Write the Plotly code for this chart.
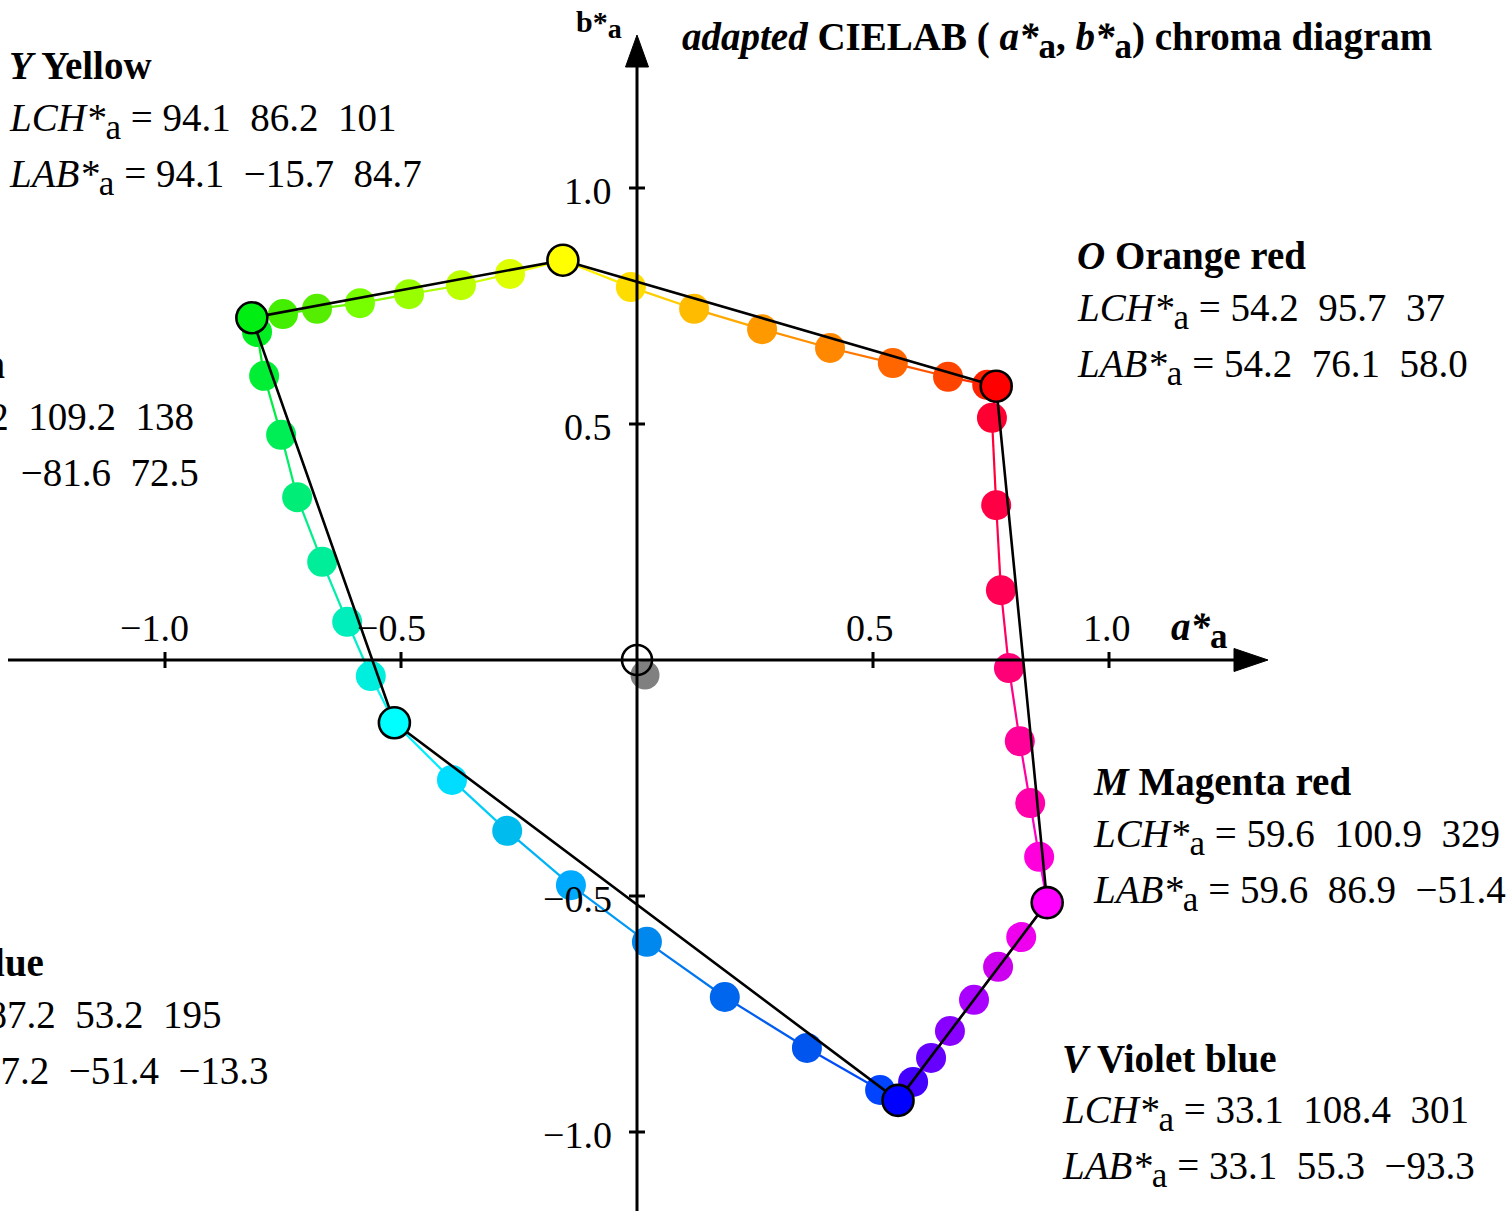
import plotly.graph_objects as go

# ---- primary colours (label values, CIELAB adapted) ----
anchor_code = ["Y", "O", "M", "V", "C", "G"]
anchor_name = ["Yellow", "Orange red", "Magenta red", "Violet blue", "Cyan blue", "Leaf green"]
anchor_L = [94.1, 54.2, 59.6, 33.1, 87.2, 81.2]
anchor_C = [86.2, 95.7, 100.9, 108.4, 53.2, 109.2]
anchor_h = [101, 37, 329, 301, 195, 138]
anchor_a = [-15.7, 76.1, 86.9, 55.3, -51.4, -81.6]
anchor_b = [84.7, 58.0, -51.4, -93.3, -13.3, 72.5]
anchor_color = ["#ffff00", "#ff0000", "#ff00ff", "#0000ff", "#00ffff", "#00ee11"]

# ---- intermediate hue steps between neighbouring primaries (a*/100, b*/100) ----
yo_a = [-0.013, 0.121, 0.265, 0.409, 0.542, 0.659, 0.742]
yo_b = [0.790, 0.744, 0.701, 0.661, 0.629, 0.600, 0.583]
yo_col = ["#ffdd00", "#ffbb00", "#ff9900", "#ff8800", "#ff6600", "#ff4400", "#ff2200"]

om_a = [0.752, 0.761, 0.771, 0.788, 0.811, 0.833, 0.852]
om_b = [0.513, 0.328, 0.148, -0.017, -0.172, -0.303, -0.417]
om_col = ["#ff0033", "#ff0044", "#ff0055", "#ff0077", "#ff0099", "#ff00aa", "#ff00dd"]

mv_a = [0.814, 0.765, 0.714, 0.663, 0.623, 0.585]
mv_b = [-0.587, -0.650, -0.720, -0.786, -0.843, -0.894]
mv_col = ["#ee00ee", "#cc00ee", "#aa00ff", "#8800ff", "#6600ff", "#4400ff"]

vc_a = [0.515, 0.360, 0.186, 0.021, -0.140, -0.275, -0.392]
vc_b = [-0.911, -0.822, -0.714, -0.597, -0.477, -0.362, -0.254]
vc_col = ["#0044ff", "#0055ee", "#0066ee", "#0088ee", "#00aaff", "#00bbee", "#00ddff"]

cg_a = [-0.564, -0.614, -0.667, -0.720, -0.754, -0.790, -0.805]
cg_b = [-0.034, 0.081, 0.208, 0.345, 0.477, 0.602, 0.695]
cg_col = ["#00eedd", "#00eebb", "#00ee99", "#00ee77", "#00ee55", "#00ee33", "#00ee22"]

gy_a = [-0.750, -0.678, -0.587, -0.483, -0.373, -0.269]
gy_b = [0.733, 0.744, 0.756, 0.775, 0.794, 0.818]
gy_col = ["#44ee00", "#55ee00", "#77ff00", "#99ff00", "#bbff00", "#ddff00"]

# achromatic grey sample near the origin
grey_a = [0.017]
grey_b = [-0.032]

# axis ticks
tick_vals = [-1.0, -0.5, 0.5, 1.0]
tick_text = ["\u22121.0", "\u22120.5", "0.5", "1.0"]

FONT = "Liberation Serif, Times New Roman, serif"
W, H = 1512, 1211
X0, Y0, S = 637.0, 660.0, 472.0          # origin pixel and pixels per unit
x_range = [-X0 / S, (W - X0) / S]
y_range = [-(H - Y0) / S, Y0 / S]

# build the closed hue ring Y -> O -> M -> V -> C -> G -> Y
pa = [v / 100 for v in anchor_a]
pb = [v / 100 for v in anchor_b]
segments = [(yo_a, yo_b, yo_col), (om_a, om_b, om_col), (mv_a, mv_b, mv_col),
            (vc_a, vc_b, vc_col), (cg_a, cg_b, cg_col), (gy_a, gy_b, gy_col)]
ring_a, ring_b, ring_c = [], [], []
for i, (sa, sb, sc) in enumerate(segments):
    ring_a += [pa[i]] + sa
    ring_b += [pb[i]] + sb
    ring_c += [anchor_color[i]] + sc
ring_a.append(pa[0]); ring_b.append(pb[0]); ring_c.append(anchor_color[0])


def mix(c1, c2):
    r1, g1, b1 = int(c1[1:3], 16), int(c1[3:5], 16), int(c1[5:7], 16)
    r2, g2, b2 = int(c2[1:3], 16), int(c2[3:5], 16), int(c2[5:7], 16)
    return "#%02x%02x%02x" % ((r1 + r2) // 2, (g1 + g2) // 2, (b1 + b2) // 2)


fig = go.Figure()

# thin coloured connecting lines
for k in range(len(ring_a) - 1):
    fig.add_trace(go.Scatter(x=ring_a[k:k + 2], y=ring_b[k:k + 2], mode="lines",
                             line=dict(color=mix(ring_c[k], ring_c[k + 1]), width=2.2),
                             hoverinfo="skip", showlegend=False))

# intermediate hue dots
dots_a, dots_b, dots_c = [], [], []
for sa, sb, sc in segments:
    dots_a += sa; dots_b += sb; dots_c += sc
fig.add_trace(go.Scatter(x=dots_a, y=dots_b, mode="markers",
                         marker=dict(size=30, color=dots_c, line=dict(width=0)),
                         showlegend=False))

# grey sample
fig.add_trace(go.Scatter(x=grey_a, y=grey_b, mode="markers",
                         marker=dict(size=29, color="#808080", line=dict(width=0)),
                         showlegend=False))

# hexagon through the primaries
fig.add_trace(go.Scatter(x=pa + [pa[0]], y=pb + [pb[0]], mode="lines",
                         line=dict(color="black", width=2.6), showlegend=False))

# primaries
fig.add_trace(go.Scatter(x=pa, y=pb, mode="markers",
                         marker=dict(size=31, color=anchor_color,
                                     line=dict(color="black", width=2.6)),
                         showlegend=False))

# open circle at the origin
fig.add_trace(go.Scatter(x=[0], y=[0], mode="markers",
                         marker=dict(size=30, symbol="circle-open", color="black",
                                     line=dict(width=2.6)),
                         showlegend=False))

# ---- axes drawn as shapes ----
shapes = []
ax_w = 3
shapes.append(dict(type="line", xref="x", yref="y", x0=(8 - X0) / S, x1=(1245 - X0) / S,
                   y0=0, y1=0, line=dict(color="black", width=ax_w), layer="above"))
shapes.append(dict(type="line", xref="x", yref="y", x0=0, x1=0, y0=y_range[0] - 0.02,
                   y1=(Y0 - 60) / S, line=dict(color="black", width=ax_w), layer="above"))
tipx, basex, hh = (1268 - X0) / S, (1234 - X0) / S, 11.5 / S
shapes.append(dict(type="path", xref="x", yref="y", layer="above",
                   path=f"M {basex} {hh} L {tipx} 0 L {basex} {-hh} Z",
                   fillcolor="black", line=dict(color="black", width=1)))
tipy, basey = (Y0 - 35) / S, (Y0 - 67) / S
shapes.append(dict(type="path", xref="x", yref="y", layer="above",
                   path=f"M {-hh} {basey} L 0 {tipy} L {hh} {basey} Z",
                   fillcolor="black", line=dict(color="black", width=1)))
tl = 8 / S
for v in tick_vals:
    shapes.append(dict(type="line", xref="x", yref="y", x0=v, x1=v, y0=-tl, y1=tl,
                       line=dict(color="black", width=ax_w), layer="above"))
    shapes.append(dict(type="line", xref="x", yref="y", x0=-tl, x1=tl, y0=v, y1=v,
                       line=dict(color="black", width=ax_w), layer="above"))

# ---- text ----
ann = []
FS = 39
SUB = '<sub><span style="font-size:35px">a</span></sub>'
PAD = 3  # annotation box padding in px


def txt(text, x, y, xanchor="left", size=FS):
    dx = -PAD if xanchor == "left" else (PAD if xanchor == "right" else 0)
    ann.append(dict(text=text, xref="paper", yref="paper", x=(x + dx) / W, y=1 - y / H,
                    xanchor=xanchor, yanchor="middle", showarrow=False,
                    font=dict(family=FONT, size=size, color="black")))


# tick labels
x_shift = {-1.0: -11, -0.5: -10, 0.5: -3, 1.0: -2}
for v, t in zip(tick_vals, tick_text):
    txt(t, X0 + v * S + x_shift[v], 628, xanchor="center", size=38)
    txt(t, 611, Y0 - v * S + 3, xanchor="right", size=38)

# axis names and title
txt(f"<b><i>a*</i>{SUB}</b>", 1172, 630)
txt('<b>b*<sub><span style="font-size:28px">a</span></sub></b>', 577, 24, size=30)
txt(f"<b><i>adapted</i> CIELAB ( <i>a*</i>{SUB}, <i>b*</i>{SUB}) chroma diagram</b>", 683, 40)


def num(v, d=1):
    s = f"{abs(v):.{d}f}"
    return ("\u2212" + s) if v < 0 else s


sp = "\u00a0\u00a0"
# label blocks: anchor side, x per row (left edge, or right edge for blocks running off the left), first-row y
label_pos = {
    "Y": ("left", [10, 10, 10], 66),
    "O": ("left", [1078, 1078, 1078], 256),
    "M": ("left", [1094, 1094, 1094], 782),
    "V": ("left", [1063, 1063, 1063], 1058),
    "C": ("right", [43, 220, 268], 963),
    "G": ("right", [4, 193, 198], 365),
}
for i, code in enumerate(anchor_code):
    side, xs, y_top = label_pos[code]
    lines = [
        f"<b><i>{code}</i> {anchor_name[i]}</b>",
        f"<i>LCH*</i>{SUB} = {num(anchor_L[i])}{sp}{num(anchor_C[i])}{sp}{anchor_h[i]}",
        f"<i>LAB*</i>{SUB} = {num(anchor_L[i])}{sp}{num(anchor_a[i])}{sp}{num(anchor_b[i])}",
    ]
    for j, line in enumerate(lines):
        txt(line, xs[j], y_top + 55.5 * j, xanchor=side)

fig.update_layout(
    width=W, height=H, margin=dict(l=0, r=0, t=0, b=0),
    paper_bgcolor="white", plot_bgcolor="white",
    xaxis=dict(range=x_range, visible=False, fixedrange=True),
    yaxis=dict(range=y_range, visible=False, fixedrange=True),
    shapes=shapes, annotations=ann, showlegend=False,
)

fig.write_html("out.html", config={"displayModeBar": False})
